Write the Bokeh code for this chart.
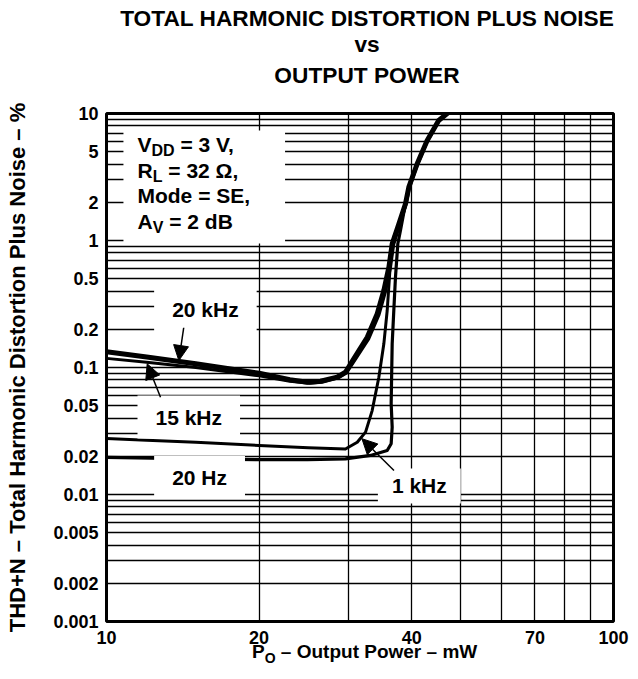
from bokeh.plotting import figure
from bokeh.models import Range1d, FixedTicker, Label, Arrow, NormalHead, BoxAnnotation, Div
from bokeh.layouts import column
from bokeh.embed import file_html
from bokeh.resources import INLINE

# ---------------- data ----------------
x_ticks = [10, 20, 40, 70, 100]
x_tick_labels = ["10", "20", "40", "70", "100"]
y_ticks = [0.001, 0.002, 0.005, 0.01, 0.02, 0.05, 0.1, 0.2, 0.5, 1, 2, 5, 10]
y_tick_labels = ["0.001", "0.002", "0.005", "0.01", "0.02", "0.05", "0.1", "0.2",
                 "0.5", "1", "2", "5", "10"]
x_grid = [10, 20, 30, 40, 50, 60, 70, 80, 90, 100]
y_grid = [0.001, 0.002, 0.003, 0.004, 0.005, 0.006, 0.007, 0.008, 0.009,
          0.01, 0.02, 0.03, 0.04, 0.05, 0.06, 0.07, 0.08, 0.09,
          0.1, 0.2, 0.3, 0.4, 0.5, 0.6, 0.7, 0.8, 0.9,
          1, 2, 3, 4, 5, 6, 7, 8, 9, 10]

khz20_p = [10, 12, 15, 20, 23, 24.9, 26.43, 28.51, 29.6, 30.74, 32.68, 34.2, 35.24,
           36.06, 36.6, 37.72, 38.88, 39.47, 41.0, 42.9, 45.2, 47.3]
khz20_thd = [0.133, 0.121, 0.107, 0.090, 0.080, 0.0766, 0.078, 0.0839, 0.0918, 0.117,
             0.173, 0.265, 0.404, 0.617, 0.942, 1.35, 1.95, 2.63, 4.02, 6.12, 8.81, 10.2]

khz15_p = [10, 12, 15, 20, 23, 25.2, 26.6, 28.6, 29.7, 30.9, 32.9, 34.45, 35.5,
           36.3, 36.85, 37.9, 39.0, 39.6, 41.1, 43.0, 45.3, 47.4]
khz15_thd = [0.118, 0.110, 0.100, 0.086, 0.078, 0.0752, 0.0765, 0.0825, 0.090, 0.114,
             0.168, 0.258, 0.395, 0.605, 0.93, 1.34, 1.94, 2.62, 4.0, 6.1, 8.8, 10.2]

khz1_p = [10, 12, 15, 20, 25, 29.6, 31.23, 32.43, 33.42, 34.45, 35.24, 35.78, 36.15,
          36.43, 36.87, 37.72, 38.88, 39.47, 41.0]
khz1_thd = [0.0276, 0.0267, 0.0258, 0.0243, 0.0233, 0.0228, 0.0258, 0.031, 0.0458,
            0.0839, 0.1537, 0.281, 0.514, 0.834, 1.06, 1.35, 1.95, 2.63, 4.02]

hz20_p = [10, 15, 19.8, 24.9, 29.6, 33.17, 35.78, 36.43, 36.6, 36.43, 36.6, 36.87,
          37.15, 37.55, 38.0, 38.88, 39.47, 41.0]
hz20_thd = [0.0196, 0.0191, 0.0188, 0.0188, 0.0191, 0.0203, 0.0222, 0.0251, 0.0339,
            0.0518, 0.1537, 0.281, 0.514, 0.942, 1.20, 1.95, 2.63, 4.02]

FONT = "Liberation Sans"
NB = "\u00a0"

# ---------------- title ----------------
title_html = (
    '<div style="font-family:\'Liberation Sans\',Arial,sans-serif;font-weight:bold;'
    'font-size:22.7px;color:black;width:542px;margin-left:96px;text-align:center;">'
    '<div style="height:8px;"></div>'
    '<div style="height:21px;line-height:21px;white-space:nowrap;">TOTAL HARMONIC DISTORTION PLUS NOISE</div>'
    '<div style="height:30px;line-height:30px;">vs</div>'
    '<div style="height:4px;"></div>'
    '<div style="height:24px;line-height:24px;">OUTPUT POWER</div>'
    '</div>'
)
title_div = Div(text=title_html, width=638, height=100, margin=(0, 0, 0, 0))

# ---------------- figure ----------------
p = figure(width=630, height=552, x_axis_type="log", y_axis_type="log",
           x_range=Range1d(10, 100), y_range=Range1d(0.001, 10),
           output_backend="svg", toolbar_location=None,
           min_border_left=106, min_border_right=17, min_border_top=13, min_border_bottom=31)
p.margin = (0, 0, 0, 0)
p.outline_line_color = "black"
p.outline_line_width = 3
p.background_fill_color = "white"
p.border_fill_color = "white"

for ax in (p.xaxis, p.yaxis):
    ax.axis_line_color = None
    ax.major_tick_line_color = None
    ax.minor_tick_line_color = None
    ax.major_tick_in = 0
    ax.major_tick_out = 0
    ax.minor_tick_in = 0
    ax.minor_tick_out = 0
    ax.major_label_text_font = FONT
    ax.major_label_text_font_style = "bold"
    ax.major_label_text_font_size = "18px"
    ax.major_label_text_color = "black"

p.xaxis.major_label_standoff = 9
p.yaxis.major_label_standoff = 8

p.xaxis.ticker = FixedTicker(ticks=x_ticks)
p.xaxis.major_label_overrides = dict(zip(x_ticks, x_tick_labels))
p.yaxis.ticker = FixedTicker(ticks=y_ticks)
p.yaxis.major_label_overrides = dict(zip(y_ticks, y_tick_labels))

p.yaxis.axis_label = "THD+N \u2013 Total Harmonic Distortion Plus Noise \u2013 %"
p.yaxis.axis_label_text_font = FONT
p.yaxis.axis_label_text_font_style = "bold"
p.yaxis.axis_label_text_font_size = "22px"
p.yaxis.axis_label_text_color = "black"
p.yaxis.axis_label_standoff = 20

p.xgrid.ticker = FixedTicker(ticks=x_grid)
p.ygrid.ticker = FixedTicker(ticks=y_grid)
for g in (p.xgrid, p.ygrid):
    g.grid_line_color = "black"
    g.grid_line_width = 1.3
    g.grid_line_alpha = 1.0

# curves
p.line(hz20_p, hz20_thd, line_color="black", line_width=3.2, line_join="round")
p.line(khz1_p, khz1_thd, line_color="black", line_width=3.0, line_join="round")
p.line(khz15_p, khz15_thd, line_color="black", line_width=3.0, line_join="round")
p.line(khz20_p, khz20_thd, line_color="black", line_width=5.0, line_join="round")

# condition box
p.add_layout(BoxAnnotation(left=10.8, right=22.5, bottom=0.947, top=7.35,
                           fill_color="white", fill_alpha=1.0, line_color=None))


def lab(x, y, text, size, xo=0, yo=0, align="left", baseline="middle", bg=None, pad=0):
    kw = {}
    if bg is not None:
        kw = dict(background_fill_color=bg, background_fill_alpha=1.0, padding=pad)
    p.add_layout(Label(x=x, y=y, text=text, x_offset=xo, y_offset=yo,
                       text_font=FONT, text_font_style="bold", text_font_size=size,
                       text_color="black", text_align=align, text_baseline=baseline, **kw))


BOX = "21px"
SUB = "16px"
bx = 11.51
lab(bx, 5.65, "V", BOX)
lab(bx, 5.65, "DD", SUB, xo=14.0, yo=-6)
lab(bx, 5.65, NB + "= 3 V,", BOX, xo=37.1)
lab(bx, 3.526, "R", BOX)
lab(bx, 3.526, "L", SUB, xo=15.2, yo=-6)
lab(bx, 3.526, NB + "= 32 \u03a9,", BOX, xo=25.0)
lab(bx, 2.241, "Mode = SE,", BOX)
lab(bx, 1.411, "A", BOX)
lab(bx, 1.411, "V", SUB, xo=15.2, yo=-6)
lab(bx, 1.411, NB + "= 2 dB", BOX, xo=25.9)

# curve labels
CL = "21px"
lab(15.67, 0.286, "20 kHz", CL, align="center", bg="white", pad=(18, 10))
lab(14.53, 0.0407, "15 kHz", CL, align="center", bg="white", pad=(18, 10))
lab(15.26, 0.0136, "20 Hz", CL, align="center", bg="white", pad=(18, 10))
lab(41.4, 0.01167, "1 kHz", CL, align="center", bg="white", pad=(14, 6))

# arrows
for (x0, y0, x1, y1) in [(14.2, 0.2056, 13.89, 0.1135),
                         (12.78, 0.0583, 12.03, 0.107),
                         (36.9, 0.01545, 31.9, 0.0275)]:
    p.add_layout(Arrow(x_start=x0, y_start=y0, x_end=x1, y_end=y1, line_width=1.5,
                       end=NormalHead(size=15, fill_color="black", line_color="black")))

# ---------------- x axis label ----------------
xlab_html = (
    '<div style="position:relative;top:-10px;margin-left:252px;white-space:nowrap;'
    'font-family:\'Liberation Sans\',Arial,sans-serif;font-weight:bold;font-size:19px;'
    'line-height:20px;color:black;">P<span style="font-size:14px;position:relative;top:5px;">O</span>'
    ' \u2013 Output Power \u2013 mW</div>'
)
xlab_div = Div(text=xlab_html, width=638, height=24, margin=(0, 0, 0, 0))

layout = column(title_div, p, xlab_div, spacing=0)
open("out.html", "w").write(file_html(layout, INLINE))
